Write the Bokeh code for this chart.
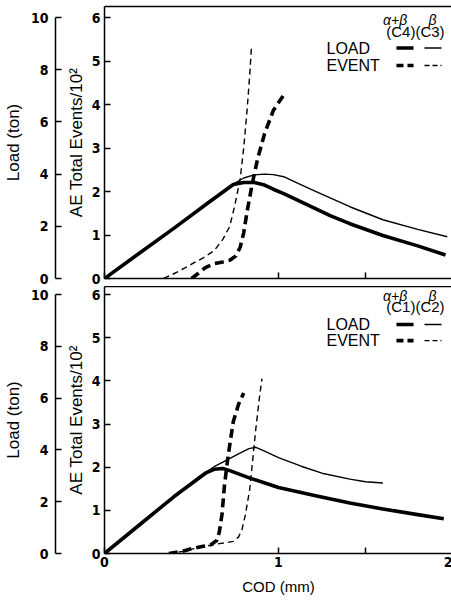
from bokeh.plotting import figure
from bokeh.models import Range1d, LinearAxis, FixedTicker
from bokeh.layouts import column
from bokeh.embed import file_html
from bokeh.resources import INLINE
from bokeh.core.properties import value

# ---------------- data ----------------
x_ticks = [0, 1, 2]
x_minor_ticks = [1.5]
load_ticks = [0, 2, 4, 6, 8, 10]
ae_ticks = [0, 1, 2, 3, 4, 5, 6]

# top panel: C4 (alpha+beta, thick) and C3 (beta, thin)
c4_load_cod = [0, 0.2, 0.4, 0.6, 0.74, 0.80, 0.86, 0.92, 0.97, 1.03, 1.1, 1.2, 1.3, 1.41, 1.6, 1.8, 1.96]
c4_load = [0, 0.97, 1.93, 2.92, 3.6, 3.68, 3.68, 3.58, 3.42, 3.25, 3.03, 2.72, 2.4, 2.1, 1.65, 1.25, 0.9]
c3_load_cod = [0, 0.2, 0.4, 0.6, 0.74, 0.80, 0.86, 0.92, 0.97, 1.03, 1.1, 1.2, 1.3, 1.41, 1.6, 1.8, 1.97]
c3_load = [0, 0.97, 1.93, 2.92, 3.62, 3.85, 3.97, 4.0, 3.98, 3.9, 3.68, 3.38, 3.08, 2.75, 2.25, 1.88, 1.6]
c4_event_cod = [0.50, 0.54, 0.58, 0.63, 0.68, 0.72, 0.755, 0.78, 0.80, 0.82, 0.85, 0.88, 0.92, 0.97, 1.04]
c4_event = [0.0, 0.12, 0.25, 0.34, 0.38, 0.42, 0.52, 0.72, 1.05, 1.55, 2.2, 2.75, 3.33, 3.86, 4.28]
c3_event_cod = [0.34, 0.42, 0.50, 0.57, 0.63, 0.68, 0.72, 0.75, 0.78, 0.80, 0.82, 0.835, 0.845]
c3_event = [0.0, 0.15, 0.33, 0.48, 0.64, 0.9, 1.2, 1.7, 2.3, 3.0, 3.9, 4.7, 5.36]

# bottom panel: C1 (alpha+beta, thick) and C2 (beta, thin)
c1_load_cod = [0, 0.2, 0.4, 0.52, 0.58, 0.63, 0.68, 0.72, 0.84, 1.0, 1.22, 1.41, 1.6, 1.8, 1.95]
c1_load = [0, 1.1, 2.2, 2.8, 3.1, 3.25, 3.28, 3.2, 2.9, 2.55, 2.22, 1.95, 1.72, 1.5, 1.34]
c2_load_cod = [0, 0.2, 0.4, 0.55, 0.63, 0.70, 0.77, 0.83, 0.87, 0.92, 1.0, 1.13, 1.25, 1.41, 1.5, 1.6]
c2_load = [0, 1.1, 2.2, 3.0, 3.35, 3.6, 3.85, 4.05, 4.1, 3.95, 3.7, 3.37, 3.1, 2.87, 2.77, 2.72]
c1_event_cod = [0.37, 0.45, 0.50, 0.56, 0.61, 0.645, 0.66, 0.675, 0.69, 0.71, 0.74, 0.77, 0.80]
c1_event = [0.0, 0.05, 0.11, 0.16, 0.2, 0.3, 0.5, 0.9, 1.6, 2.25, 3.05, 3.45, 3.72]
c2_event_cod = [0.37, 0.45, 0.50, 0.56, 0.61, 0.66, 0.70, 0.74, 0.77, 0.79, 0.81, 0.835, 0.85, 0.87, 0.89, 0.905]
c2_event = [0, 0.05, 0.1, 0.15, 0.19, 0.23, 0.25, 0.28, 0.38, 0.55, 0.9, 1.5, 2.1, 2.9, 3.6, 4.05]

top_specimens = ["(C4)(C3)"]
bottom_specimens = ["(C1)(C2)"]

# ---------------- styles ----------------
TICK_FONT = "'Liberation Sans Narrow', 'DejaVu Sans Condensed', 'Liberation Sans', sans-serif"
TITLE_FONT = "'Liberation Sans', 'DejaVu Sans', sans-serif"
THICK = 3.6
THIN = 1.4
THICK_DASH = "9 5"
THIN_DASH = "6 4"
FRAME_W = 348

# legend layout (COD units / load units)
LEG_TEXT_X = 1.276
LEG_THICK = (1.678, 1.776)
LEG_THIN = (1.839, 1.937)
LEG_COL1_X = 1.67
LEG_COL2_X = 1.885
LEG_SPEC_X = 1.787


def style_axis(ax, title, tick_in, label_standoff, title_standoff):
    ax.axis_label = title
    ax.axis_line_color = "black"
    ax.axis_line_width = 1.5
    ax.major_tick_in = tick_in
    ax.major_tick_out = 0
    ax.major_tick_line_width = 1.5
    ax.major_tick_line_color = "black"
    ax.minor_tick_in = tick_in
    ax.minor_tick_out = 0
    ax.minor_tick_line_width = 1.5
    ax.minor_tick_line_color = "black"
    ax.major_label_text_font = TICK_FONT
    ax.major_label_text_font_style = "bold"
    ax.major_label_text_font_size = "14px"
    ax.major_label_text_color = "black"
    ax.major_label_standoff = label_standoff
    ax.axis_label_text_font = TITLE_FONT
    ax.axis_label_text_font_style = "normal"
    ax.axis_label_text_font_size = "17px"
    ax.axis_label_text_color = "black"
    ax.axis_label_standoff = title_standoff


def make_panel(frame_h, px_per_ton, top, bottom, show_x, loads, events, leg_y, specimen):
    load_top = frame_h / px_per_ton
    ae_top = load_top * 6 / 10
    p = figure(frame_width=FRAME_W, frame_height=frame_h, x_range=Range1d(0, 2), y_range=Range1d(0, ae_top),
               output_backend="svg", toolbar_location=None,
               min_border_left=95, min_border_right=0, min_border_top=top, min_border_bottom=bottom)
    p.extra_y_ranges = {"load": Range1d(0, load_top)}
    p.grid.visible = False
    p.outline_line_color = None
    p.background_fill_color = "white"
    p.border_fill_color = "white"

    # inner AE axis (default)
    ae_ax = p.yaxis[0]
    ae_ax.ticker = FixedTicker(ticks=ae_ticks)
    style_axis(ae_ax, "AE Total Events/10²", 6, 4, 3)

    # spacer between the two left axes
    spacer = LinearAxis(ticker=FixedTicker(ticks=[]))
    spacer.axis_line_color = None
    spacer.axis_label = " "
    spacer.axis_label_text_font_size = "4px"
    spacer.axis_label_standoff = 0
    p.add_layout(spacer, "left")

    # outer load axis
    load_ax = LinearAxis(y_range_name="load", ticker=FixedTicker(ticks=load_ticks), bounds=(0, 10))
    style_axis(load_ax, "Load (ton)", 6, 7, 5)
    p.add_layout(load_ax, "left")

    # x axis
    xa = p.xaxis[0]
    if show_x:
        xa.ticker = FixedTicker(ticks=x_ticks, minor_ticks=x_minor_ticks)
        style_axis(xa, "COD (mm)", 6, 3, 8)
        xa.axis_label_text_font_size = "15px"
    else:
        xa.ticker = FixedTicker(ticks=[], minor_ticks=x_ticks + x_minor_ticks)
        style_axis(xa, None, 6, 0, 0)

    top_ax = LinearAxis(ticker=FixedTicker(ticks=[]))
    top_ax.axis_line_width = 1.5
    p.add_layout(top_ax, "above")

    (tk_x, tk_y), (tn_x, tn_y) = loads
    p.line(tk_x, tk_y, y_range_name="load", line_width=THICK, color="black", line_join="round")
    p.line(tn_x, tn_y, y_range_name="load", line_width=THIN, color="black", line_join="round")
    (ek_x, ek_y), (en_x, en_y) = events
    p.line(ek_x, ek_y, line_width=THICK, color="black", line_dash=THICK_DASH)
    p.line(en_x, en_y, line_width=THIN, color="black", line_dash=THIN_DASH)

    # legend
    y_head1, y_head2, y_load, y_event = leg_y
    p.text([LEG_COL1_X, LEG_COL2_X], [y_head1, y_head1], text=["α+β", "β"], y_range_name="load",
           text_font=value(TITLE_FONT), text_font_style="italic", text_font_size="14px",
           text_align="center", text_baseline="middle", text_color="black")
    p.text([LEG_SPEC_X], [y_head2], text=specimen, y_range_name="load",
           text_font=value(TITLE_FONT), text_font_size="15px",
           text_align="center", text_baseline="middle", text_color="black")
    p.text([LEG_TEXT_X, LEG_TEXT_X], [y_load, y_event], text=["LOAD", "EVENT"], y_range_name="load",
           text_font=value(TITLE_FONT), text_font_size="16px",
           text_align="left", text_baseline="middle", text_color="black")
    p.segment([LEG_THICK[0]], [y_load], [LEG_THICK[1]], [y_load], y_range_name="load",
              line_width=THICK, color="black")
    p.segment([LEG_THIN[0]], [y_load], [LEG_THIN[1]], [y_load], y_range_name="load",
              line_width=THIN, color="black")
    p.segment([LEG_THICK[0]], [y_event], [LEG_THICK[1]], [y_event], y_range_name="load",
              line_width=THICK, color="black", line_dash="7 4")
    p.segment([LEG_THIN[0]], [y_event], [LEG_THIN[1]], [y_event], y_range_name="load",
              line_width=THIN, color="black", line_dash="5 3")
    return p


p1 = make_panel(272, 26.1, 6, 8, False,
                ((c4_load_cod, c4_load), (c3_load_cod, c3_load)),
                ((c4_event_cod, c4_event), (c3_event_cod, c3_event)),
                (9.90, 9.48, 8.83, 8.16), top_specimens)
p2 = make_panel(267, 25.9, 0, 46, True,
                ((c1_load_cod, c1_load), (c2_load_cod, c2_load)),
                ((c1_event_cod, c1_event), (c2_event_cod, c2_event)),
                (9.94, 9.52, 8.84, 8.22), bottom_specimens)

layout = column(p1, p2)
open("out.html", "w").write(file_html(layout, INLINE))
